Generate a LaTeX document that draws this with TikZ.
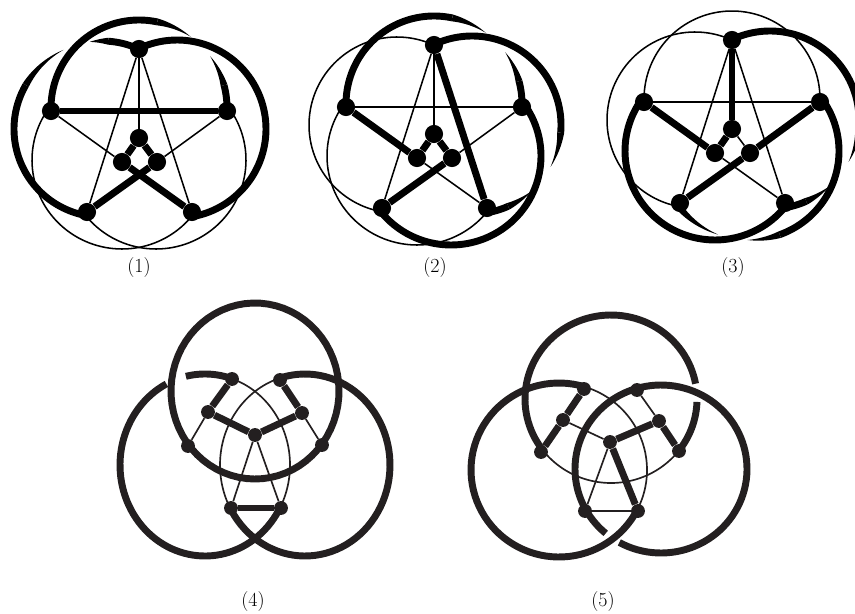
\documentclass[tikz,border=0pt]{standalone}
\usepackage{xcolor}
\usetikzlibrary{positioning,calc}
\definecolor{inkdark}{HTML}{231F20}
\tikzset{
  vtx/.style={circle, fill=black, inner sep=0pt, minimum size=13.6pt},
  vtxs/.style={circle, fill=inkdark, inner sep=0pt, minimum size=10.4pt},
  thinline/.style={line width=1.15pt},
  thickline/.style={line width=5.2pt},
  thinlines/.style={line width=1.25pt, inkdark},
  thicklines/.style={line width=5.2pt, inkdark},
  figlbl/.style={font=\fontsize{15}{17}\selectfont}
}
\newcommand{\tw}{6.9}
% cx cy rx ry from to
\newcommand{\ringarc}[7][thickline]{\draw[#1] plot[variable=\a,domain=#6:#7,samples=70]
  ({#2+#4*cos(\a)},{#3-#5*sin(\a)});}
% cx cy rx ry tip full width
\newcommand{\taperarc}[7]{\fill plot[variable=\a,domain=#5:#6,samples=30]
  ({#1+(#3+#7/2*(\a-(#5))/((#6)-(#5)))*cos(\a)},{#2-(#4+#7/2*(\a-(#5))/((#6)-(#5)))*sin(\a)})
  -- plot[variable=\a,domain=#6:#5,samples=30]
  ({#1+(#3-#7/2*(\a-(#5))/((#6)-(#5)))*cos(\a)},{#2-(#4-#7/2*(\a-(#5))/((#6)-(#5)))*sin(\a)}) -- cycle;}
\begin{document}
\begin{tikzpicture}[x=0.75pt,y=-0.75pt]
  \useasboundingbox (0,0) rectangle (855,613);

  % pentagram vertices, figures 1--3
  \foreach \fig/\dx/\dy in {a/0/0,b/295/-4,c/593/-9}{
    \begin{scope}[shift={(\dx,\dy)}]
      \node[vtx] (\fig top) at (139,49) {};
      \node[vtx] (\fig lft) at (51,111) {};
      \node[vtx] (\fig rgt) at (227,111) {};
      \node[vtx] (\fig bl) at (87,212) {};
      \node[vtx] (\fig br) at (192,212) {};
      \node[vtx] (\fig it) at (139,138) {};
      \node[vtx] (\fig il) at (122,162) {};
      \node[vtx] (\fig ir) at (157,162) {};
    \end{scope}
  }

  % figure 1
  \draw[thinline] (atop) -- (ait);
  \draw[thinline] (atop) -- (abl);
  \draw[thinline] (atop) -- (abr);
  \draw[thinline] (alft) -- (ail);
  \draw[thinline] (argt) -- (air);
  \draw[thickline] (alft) -- (argt);
  \draw[thickline] (ait) -- (ail);
  \draw[thickline] (ait) -- (air);
  \draw[thickline] (ail) -- (abr);
  \draw[thickline] (air) -- (abl);
  \ringarc{139}{108}{88}{88}{177}{78}
  \taperarc{139}{108}{88}{88}{54}{78}{\tw}
  \taperarc{139}{108}{88}{88}{36}{15}{\tw}
  \ringarc{139}{108}{88}{88}{15}{-2}
  \ringarc{102}{129}{88}{88}{260}{150}
  \taperarc{102}{129}{88}{88}{116}{150}{\tw}
  \taperarc{102}{129}{88}{88}{98}{86}{\tw}
  \ringarc{102}{129}{88}{88}{86}{65}
  \ringarc{177}{129}{89}{89}{115}{-80}
  \ringarc[thinline]{122}{160}{90}{89}{144}{325}
  \ringarc[thinline]{156}{160}{90}{89}{36}{-145}
  \node[figlbl] (lbl1) at (139,268) {(1)};

  % figure 2
  \draw[thinline] (btop) -- (bit);
  \draw[thinline] (btop) -- (bbl);
  \draw[thinline] (blft) -- (brgt);
  \draw[thinline] (brgt) -- (bir);
  \draw[thinline] (bil) -- (bbr);
  \draw[thickline] (btop) -- (bbr);
  \draw[thickline] (blft) -- (bil);
  \draw[thickline] (bit) -- (bil);
  \draw[thickline] (bit) -- (bir);
  \draw[thickline] (bir) -- (bbl);
  \begin{scope}[shift={(295,-4)}]
    \ringarc{139}{108}{88}{88}{177}{78}
    \taperarc{139}{108}{88}{88}{54}{78}{\tw}
    \taperarc{139}{108}{88}{88}{36}{15}{\tw}
    \ringarc{139}{108}{88}{88}{15}{-2}
    \ringarc{177}{129}{89}{89}{115}{-5}
    \taperarc{177}{129}{89}{89}{-28}{-5}{\tw}
    \taperarc{177}{129}{89}{89}{-48}{-66}{\tw}
    \ringarc{177}{129}{89}{89}{-66}{-80}
    \ringarc{156}{160}{90}{89}{36}{-145}
    \ringarc[thinline]{102}{129}{88}{88}{65}{260}
    \ringarc[thinline]{122}{160}{90}{89}{144}{325}
  \end{scope}
  \node[figlbl] (lbl2) at (435,268) {(2)};

  % figure 3
  \draw[thinline] (ctop) -- (cbl);
  \draw[thinline] (ctop) -- (cbr);
  \draw[thinline] (clft) -- (crgt);
  \draw[thinline] (cit) -- (cir);
  \draw[thinline] (cil) -- (cbr);
  \draw[thickline] (ctop) -- (cit);
  \draw[thickline] (clft) -- (cil);
  \draw[thickline] (crgt) -- (cir);
  \draw[thickline] (cit) -- (cil);
  \draw[thickline] (cir) -- (cbl);
  \begin{scope}
    \clip (580,0) rectangle (855,243.5);
    \begin{scope}[shift={(593,-9)}]
      \ringarc[thinline]{139}{108}{88}{88}{177}{-2}
      \ringarc[thinline]{102}{129}{88}{88}{65}{260}
      \ringarc{177}{129}{89}{89}{115}{-5}
      \taperarc{177}{129}{89}{89}{-28}{-5}{\tw}
      \taperarc{177}{129}{89}{89}{-48}{-66}{\tw}
      \ringarc{177}{129}{89}{89}{-66}{-80}
      \ringarc{122}{160}{90}{89}{144}{325}
      \ringarc{156}{160}{90}{89}{36}{-70}
      \taperarc{156}{160}{90}{89}{-91}{-70}{\tw}
      \taperarc{156}{160}{90}{89}{-110}{-140}{\tw}
      \ringarc{156}{160}{90}{89}{-140}{-145}
    \end{scope}
  \end{scope}
  \node[figlbl] (lbl3) at (733,268) {(3)};

  % figure 4
  \node[vtxs] (d1) at (232,379) {};
  \node[vtxs] (d2) at (208,412) {};
  \node[vtxs] (d3) at (188,446) {};
  \node[vtxs] (dc) at (255,435) {};
  \node[vtxs] (d4) at (280,380) {};
  \node[vtxs] (d5) at (302,413) {};
  \node[vtxs] (d6) at (322,445) {};
  \node[vtxs] (dbl) at (231,508) {};
  \node[vtxs] (dbr) at (281,508) {};
  \draw[thinlines] (d2) -- (d3);
  \draw[thinlines] (d5) -- (d6);
  \draw[thinlines] (dc) -- (dbl);
  \draw[thinlines] (dc) -- (dbr);
  \draw[thicklines] (d1) -- (d2);
  \draw[thicklines] (d2) -- (dc);
  \draw[thicklines] (dc) -- (d5);
  \draw[thicklines] (d5) -- (d4);
  \draw[thicklines] (dbl) -- (dbr);
  \ringarc[thicklines]{255}{391}{84}{88}{12}{-360}
  \ringarc[thicklines]{205}{465}{85}{91}{72.5}{103}
  \ringarc[thicklines]{205}{465}{85}{91}{117}{330}
  \ringarc[thinlines]{205}{465}{85}{91}{-30}{72.5}
  \ringarc[thicklines]{305}{465}{85}{91}{106}{-150}
  \ringarc[thinlines]{305}{465}{85}{91}{106}{210}
  \node[figlbl] (lbl4) at (253,602) {(4)};

  % figure 5
  \node[vtxs] (e1) at (584,389) {};
  \node[vtxs] (e2) at (563,420) {};
  \node[vtxs] (e3) at (541,452) {};
  \node[vtxs] (ec) at (610,442) {};
  \node[vtxs] (e4) at (637,390) {};
  \node[vtxs] (e5) at (659,421) {};
  \node[vtxs] (e6) at (679,451) {};
  \node[vtxs] (ebl) at (585,511) {};
  \node[vtxs] (ebr) at (638,511) {};
  \draw[thinlines] (e2) -- (ec);
  \draw[thinlines] (e5) -- (e4);
  \draw[thinlines] (ec) -- (ebl);
  \draw[thinlines] (ebl) -- (ebr);
  \draw[thicklines] (e1) -- (e2);
  \draw[thicklines] (e2) -- (e3);
  \draw[thicklines] (ec) -- (e5);
  \draw[thicklines] (e5) -- (e6);
  \draw[thicklines] (ec) -- (ebr);
  \ringarc[thicklines]{611}{399}{86}{84}{217}{10.5}
  \ringarc[thicklines]{611}{399}{86}{84}{-2}{-37}
  \ringarc[thinlines]{611}{399}{86}{84}{-37}{-143}
  \ringarc[thicklines]{559}{470}{88}{87}{73}{333}
  \ringarc[thinlines]{559}{470}{88}{87}{-27}{73}
  \ringarc[thicklines]{661}{469}{86}{84}{107}{-119}
  \ringarc[thicklines]{661}{469}{86}{84}{230}{107}
  \node[figlbl] (lbl5) at (603,602) {(5)};
\end{tikzpicture}
\end{document}
